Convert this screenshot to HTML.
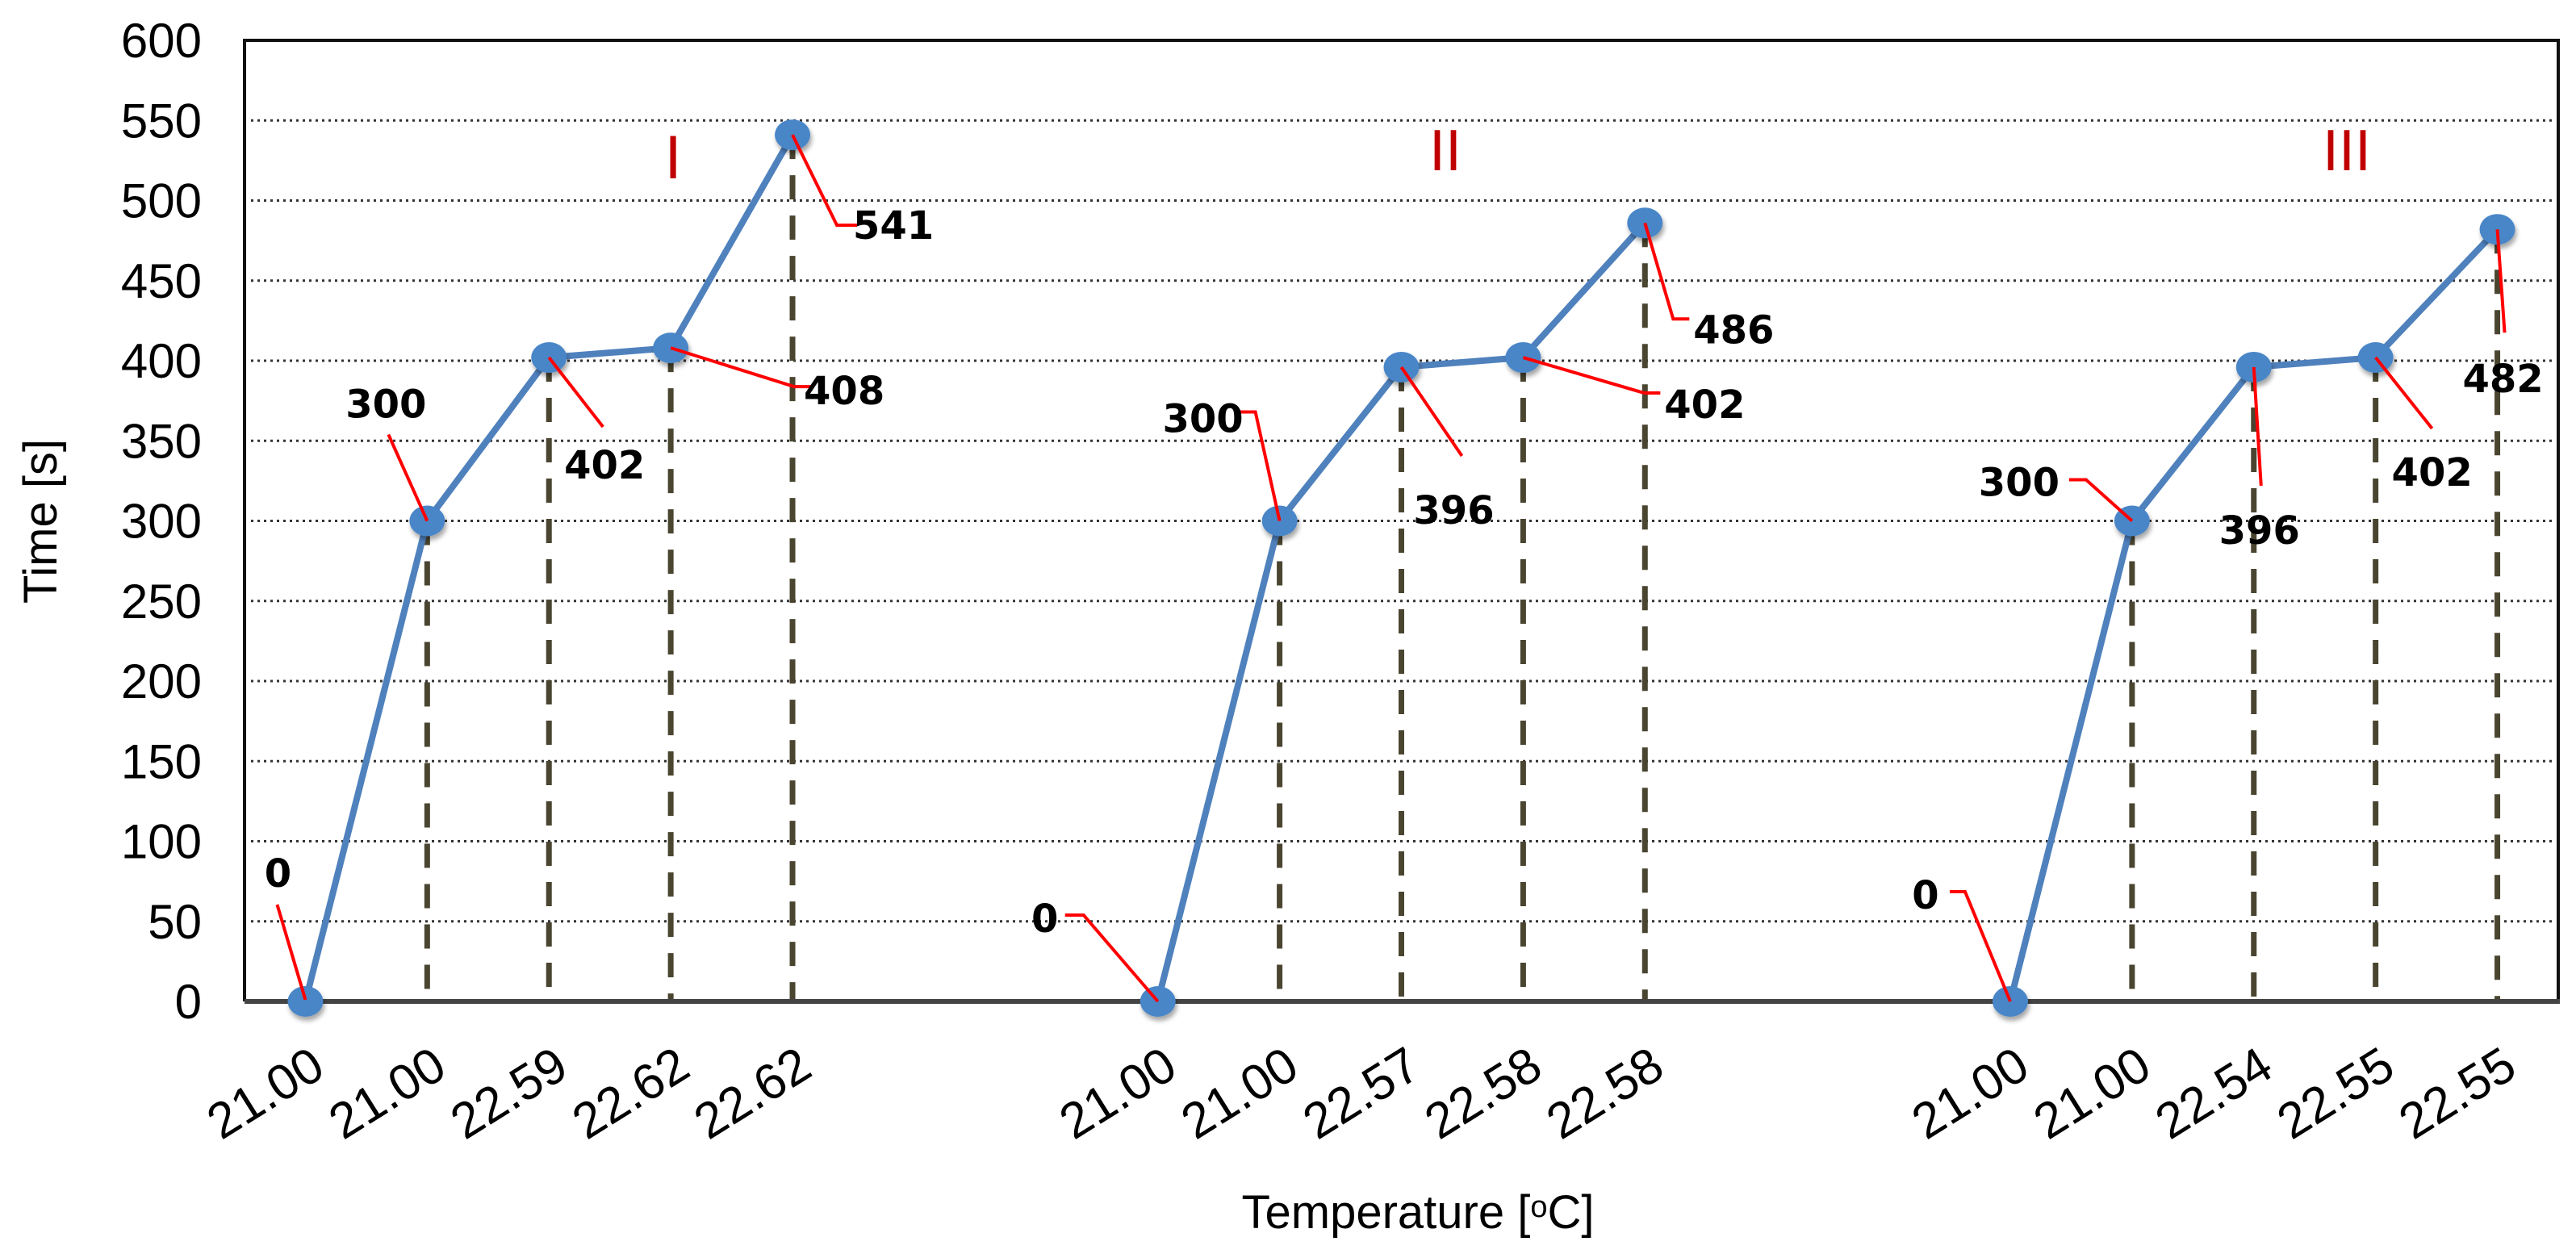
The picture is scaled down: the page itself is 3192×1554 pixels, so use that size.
<!DOCTYPE html>
<html><head><meta charset="utf-8"><style>
html,body{margin:0;padding:0;background:#fff;}
svg{display:block;}
</style></head><body>
<svg id="chart" width="3192" height="1554" viewBox="0 0 3192 1554" xmlns="http://www.w3.org/2000/svg">
<defs>
<filter id="sh" x="-50%" y="-50%" width="200%" height="200%"><feDropShadow dx="2" dy="5" stdDeviation="3" flood-color="#000" flood-opacity="0.35"/></filter>
</defs>
<g id="grid"></g>
<g id="drops"></g>
<g id="axes"></g>
<g id="series"></g>
<g id="labels"></g>
<g id="ticks"></g>
<text x="834" y="221" font-family="Liberation Sans, sans-serif" font-size="76" fill="#c00000" text-anchor="middle">I</text>
<text x="1791" y="211" font-family="Liberation Sans, sans-serif" font-size="72" fill="#c00000" text-anchor="middle">II</text>
<text x="2908" y="211" font-family="Liberation Sans, sans-serif" font-size="72" fill="#c00000" text-anchor="middle">III</text>
<text transform="translate(70,646) rotate(-90)" font-family="Liberation Sans, sans-serif" font-size="58" text-anchor="middle">Time [s]</text>
<text x="1757" y="1522" font-family="Liberation Sans, sans-serif" font-size="58" text-anchor="middle">Temperature [<tspan font-size="38" dy="-14">o</tspan><tspan dy="14">C]</tspan></text>
</svg>
<script>
const categories = ["21.00","21.00","22.59","22.62","22.62","","","21.00","21.00","22.57","22.58","22.58","","","21.00","21.00","22.54","22.55","22.55"];
const groupI = [0,300,402,408,541];
const groupII = [0,300,396,402,486];
const groupIII = [0,300,396,402,482];
const groupStart = [0,7,14];
const yTicks = [0,50,100,150,200,250,300,350,400,450,500,550,600];
const NS="http://www.w3.org/2000/svg";
const L=303,R=3170,T=50,B=1241,ymax=600;
const n=categories.length, slot=(R-L)/n;
const xs=i=>L+slot*(i+0.5);
const ys=v=>B-(v/ymax)*(B-T);
function mk(tag,attrs,parent){const e=document.createElementNS(NS,tag);for(const k in attrs)e.setAttribute(k,attrs[k]);parent.appendChild(e);return e;}
const grid=document.getElementById('grid'),drops=document.getElementById('drops'),axes=document.getElementById('axes'),series=document.getElementById('series'),labels=document.getElementById('labels'),ticks=document.getElementById('ticks');
yTicks.forEach(v=>{
  if(v>0&&v<ymax){const g=mk('line',{x1:L+8,x2:R-6,y1:ys(v),y2:ys(v),stroke:'#333',"stroke-width":3,"stroke-dasharray":"3 5"},grid);
  
  }
  const t=mk('text',{x:250,y:ys(v)+21,"font-family":"Liberation Sans, sans-serif","font-size":60,"text-anchor":"end"},ticks);
  t.textContent=v;
  
  
});
const fr=mk('path',{d:`M${L},${B} L${L},${T} L${R},${T} L${R},${B}`,fill:'none',stroke:'#111',"stroke-width":4},axes);


const xa=mk('line',{x1:L,x2:R+2,y1:B,y2:B,stroke:'#444',"stroke-width":6},axes);


categories.forEach((c,i)=>{
  if(!c)return;
  const x=xs(i);
  const t=mk('text',{transform:`translate(${x+4},${1294}) rotate(-32)`,"font-family":"Liberation Sans, sans-serif","font-size":62,"text-anchor":"end","dominant-baseline":"hanging"},ticks);
  t.textContent=c;
  
  
});
const groups=[groupI,groupII,groupIII];
const lab=[
 [[-34,-160,[[0,-2],[-35,-120]]],[-51,-146,[[0,0],[-48,-107]]],[69,132,[[0,0],[67,86]]],[215,52,[[0,0],[153,48],[177,48]]],[125,111,[[0,0],[55,112],[80,112]]]],
 [[-140,-104,[[0,0],[-92,-107],[-115,-107]]],[-95,-128,[[0,0],[-30,-135],[-50,-135]]],[65,176,[[0,0],[75,110]]],[225,57,[[0,0],[150,44],[170,44]]],[110,131,[[0,0],[35,119],[55,119]]]],
 [[-105,-133,[[0,0],[-56,-136],[-75,-136]]],[-140,-49,[[0,0],[-57,-51],[-78,-51]]],[7,201,[[0,0],[9,147]]],[70,141,[[0,0],[70,88]]],[7,184,[[0,0],[9,128]]]]
];
const names=['i','ii','iii'];
groups.forEach((vals,gi)=>{
  const pts=vals.map((v,k)=>[xs(groupStart[gi]+k),ys(v)]);
  pts.forEach((p,k)=>{
    if(vals[k]>0){const d=mk('line',{x1:p[0],x2:p[0],y1:p[1],y2:B,stroke:'#4a4530',"stroke-width":7,"stroke-dasharray":"30 20"},drops);
    
    }
  });
  const pl=mk('polyline',{points:pts.map(p=>p.join(',')).join(' '),fill:'none',stroke:'#4f81bd',"stroke-width":8},series);
  
  
  pts.forEach((p,k)=>{
    const c=mk('ellipse',{cx:p[0],cy:p[1],rx:22,ry:19,fill:'#4a86c8',filter:'url(#sh)'},series);
    
    
    const lb=lab[gi][k];
    const ld=mk('polyline',{points:lb[2].map(q=>(p[0]+q[0])+','+(p[1]+q[1])).join(' '),fill:'none',stroke:'#ff0000',"stroke-width":4},labels);
    
    
    const t=mk('text',{x:p[0]+lb[0],y:p[1]+lb[1]+18,"font-family":"DejaVu Sans, sans-serif","font-weight":"bold","font-size":48,"text-anchor":"middle"},labels);
    t.textContent=vals[k];
    
    
  });
});
</script>
</body></html>
